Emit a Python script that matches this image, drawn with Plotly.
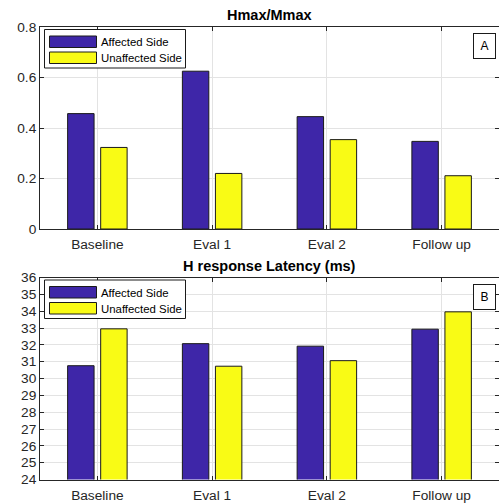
import plotly.graph_objects as go

categories = ["Baseline", "Eval 1", "Eval 2", "Follow up"]
hmax_affected = [0.457, 0.625, 0.445, 0.347]
hmax_unaffected = [0.323, 0.220, 0.354, 0.211]
lat_affected = [30.76, 32.07, 31.92, 32.93]
lat_unaffected = [32.95, 30.73, 31.06, 33.96]
series_names = ["Affected Side", "Unaffected Side"]
top_title = "Hmax/Mmax"
bottom_title = "H response Latency (ms)"

BLUE = "#3E26A8"
YELLOW = "#F9FB15"
AX = "#262626"
GRID = "#E3E3E3"
FONT = "Liberation Sans, Arial, Helvetica, sans-serif"

xpos = [1, 2, 3, 4]

fig = go.Figure()
for xa, ya, a_vals, u_vals in [("x", "y", hmax_affected, hmax_unaffected),
                               ("x2", "y2", lat_affected, lat_unaffected)]:
    fig.add_trace(go.Bar(x=xpos, y=a_vals, name=series_names[0], marker=dict(color=BLUE, line=dict(color="#1a1a1a", width=1)),
                         xaxis=xa, yaxis=ya, showlegend=False))
    fig.add_trace(go.Bar(x=xpos, y=u_vals, name=series_names[1], marker=dict(color=YELLOW, line=dict(color="#1a1a1a", width=1)),
                         xaxis=xa, yaxis=ya, showlegend=False))

H = 504.0
top_dom = [1 - 229 / H, 1 - 27 / H]
bot_dom = [1 - 479.5 / H, 1 - 277.5 / H]

xcommon = dict(range=[0.5, 4.5], tickvals=xpos, ticktext=categories, ticks="inside", ticklen=4,
               tickcolor=AX, showline=True, linecolor=AX, linewidth=1, mirror="ticks",
               showgrid=True, gridcolor=GRID, gridwidth=1, zeroline=False, automargin=False,
               ticklabelstandoff=3,
               tickfont=dict(size=13.7, color=AX, family=FONT), domain=[0, 1])
ycommon = dict(ticks="inside", ticklen=4, tickcolor=AX, showline=True, linecolor=AX, linewidth=1,
               mirror="ticks", showgrid=True, gridcolor=GRID, gridwidth=1, zeroline=False,
               automargin=False, tickfont=dict(size=13.7, color=AX, family=FONT))

fig.update_layout(
    width=499, height=504,
    margin=dict(l=40, r=0, t=0, b=0),
    paper_bgcolor="white", plot_bgcolor="white",
    barmode="group", bargap=0.424, bargroupgap=0.2,
    font=dict(family=FONT, color=AX),
    xaxis=dict(**xcommon, anchor="y"),
    yaxis=dict(**ycommon, range=[0, 0.8], tickvals=[0, 0.2, 0.4, 0.6, 0.8],
               ticktext=["0", "0.2", "0.4", "0.6", "0.8"], domain=top_dom, anchor="x"),
    xaxis2=dict(**xcommon, anchor="y2"),
    yaxis2=dict(**ycommon, range=[24, 36], dtick=1, domain=bot_dom, anchor="x2"),
)

# titles
for yref, txt in [("y domain", top_title), ("y2 domain", bottom_title)]:
    fig.add_annotation(xref="x domain" if yref == "y domain" else "x2 domain", yref=yref,
                       x=0.5, y=1, yshift=2, xanchor="center", yanchor="bottom", showarrow=False,
                       text="<b>" + txt + "</b>", font=dict(size=14.5, color="black", family=FONT))

# panel labels and legends
for xr, yr, lab in [("x domain", "y domain", "A"), ("x2 domain", "y2 domain", "B")]:
    fig.add_annotation(xref=xr, yref=yr, x=0.9935, y=0.969, xanchor="right", yanchor="top",
                       showarrow=False, text=lab, font=dict(size=12, color="black", family=FONT),
                       bordercolor="#1a1a1a", borderwidth=1, borderpad=4, bgcolor="white",
                       width=13, height=16)
    # legend box (pixel-derived positions within the plot area, 459 x 202)
    pw, ph = 459.0, 202.0
    def fx(px):
        return (px - 40) / pw
    def fy(py):
        return 1 - (py - 27) / ph
    fig.add_shape(type="rect", xref=xr, yref=yr, x0=fx(44.5), x1=fx(185.5), y0=fy(68), y1=fy(29.5),
                  line=dict(color="#1a1a1a", width=1), fillcolor="white", layer="above")
    for i, (col, name) in enumerate([(BLUE, series_names[0]), (YELLOW, series_names[1])]):
        y0 = 36 + i * 16
        fig.add_shape(type="rect", xref=xr, yref=yr, x0=fx(49.5), x1=fx(96.5), y0=fy(y0 + 11.5), y1=fy(y0),
                      line=dict(color="#1a1a1a", width=1), fillcolor=col, layer="above")
        fig.add_annotation(xref=xr, yref=yr, x=fx(99), y=fy(y0 + 6), xanchor="left", yanchor="middle",
                           showarrow=False, text=name, font=dict(size=11.4, color="black", family=FONT))

fig.write_html("out.html", config={"displayModeBar": False},
               post_script="document.body.style.margin='0';document.body.style.padding='0';document.body.style.overflow='hidden';")
